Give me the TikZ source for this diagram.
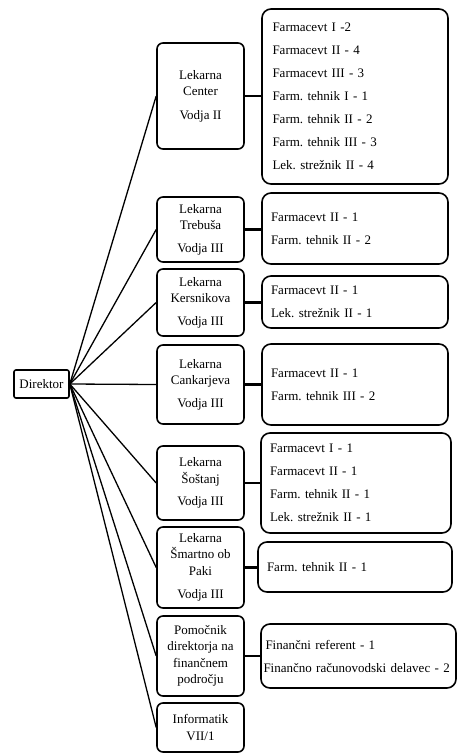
\documentclass[tikz,border=0pt]{standalone}
\usepackage{fontspec}
\setmainfont{Liberation Serif}
\frenchspacing
\tikzset{
  head/.style={draw, line width=1.6pt, rounded corners=2pt, minimum width=55pt, minimum height=28pt, inner sep=2pt, font=\fontsize{13}{16}\selectfont},
  unit/.style={draw, line width=1.6pt, rounded corners=6pt, minimum width=87pt, align=center, inner sep=2pt, font=\fontsize{13}{16.5}\selectfont},
  staff/.style={draw, line width=1.6pt, rounded corners=9pt, align=left, inner xsep=9pt, inner ysep=2pt, font=\fontsize{13}{23}\selectfont},
  link/.style={line width=1.3pt},
  joint/.style={line width=2.6pt}
}
\begin{document}
\begin{tikzpicture}[x=1pt, y=-1pt]
    \useasboundingbox (0,0) rectangle (457,753);
    \node[head] (dir) at (41.5,384) {Direktor}; % vodstvo
    % enote
    \node[unit, minimum height=106pt] (mCenter) at (200.5,96) {Lekarna\\Center\\[7pt]Vodja II};
    \node[unit, minimum height=65pt] (mTrebusa) at (200.5,229.5) {Lekarna\\Trebuša\\[6pt]Vodja III};
    \node[unit, minimum height=67pt] (mKersnikova) at (200.5,302.5) {Lekarna\\Kersnikova\\[6pt]Vodja III};
    \node[unit, minimum height=79pt] (mCankarjeva) at (200.5,384.5) {Lekarna\\Cankarjeva\\[6pt]Vodja III};
    \node[unit, minimum height=74pt] (mSostanj) at (200.5,483) {Lekarna\\Šoštanj\\[6pt]Vodja III};
    \node[unit, minimum height=81pt] (mSmartno) at (200.5,567.5) {Lekarna\\Šmartno ob\\Paki\\[7pt]Vodja III};
    \node[unit, minimum height=80pt] (mPomocnik) at (200.5,656) {Pomočnik\\direktorja na\\finančnem\\področju};
    \node[unit, minimum height=49pt] (mInformatik) at (200.5,727.5) {Informatik\\VII/1};
    % zaposleni
    \node[staff, text width=165pt, inner xsep=10.5pt, minimum height=175pt] (rCenter) at (355,96.5) {Farmacevt I -2\\Farmacevt II - 4\\Farmacevt III - 3\\Farm. tehnik I - 1\\Farm. tehnik II - 2\\Farm. tehnik III - 3\\Lek. strežnik II - 4};
    \node[staff, text width=168pt, minimum height=71pt] (rTrebusa) at (355,228.5) {Farmacevt II - 1\\Farm. tehnik II - 2};
    \node[staff, text width=168pt, minimum height=52pt] (rKersnikova) at (355,302) {Farmacevt II - 1\\Lek. strežnik II - 1};
    \node[staff, text width=168pt, minimum height=81pt] (rCankarjeva) at (355,384.5) {Farmacevt II - 1\\Farm. tehnik III - 2};
    \node[staff, text width=172pt, minimum height=100pt] (rSostanj) at (356,483) {Farmacevt I - 1\\Farmacevt II - 1\\Farm. tehnik II - 1\\Lek. strežnik II - 1};
    \node[staff, text width=176pt, minimum height=50pt] (rSmartno) at (355,567) {Farm. tehnik II - 1};
    \node[staff, text width=190pt, inner xsep=2.5pt, minimum height=64pt] (rPomocnik) at (358.5,656) {\hspace*{2pt}Finančni referent - 1\\Finančno računovodski delavec - 2};
    % povezave
    \foreach \m in {mCenter,mTrebusa,mKersnikova,mCankarjeva,mSostanj,mSmartno,mPomocnik,mInformatik}
        \draw[link] (dir.east) -- (\m.west);
    \foreach \m/\r in {mCenter/rCenter,mTrebusa/rTrebusa,mKersnikova/rKersnikova,mCankarjeva/rCankarjeva,mSostanj/rSostanj,mSmartno/rSmartno,mPomocnik/rPomocnik}
        \draw[joint] (\m.east) -- (\m.east -| \r.west);
\end{tikzpicture}
\end{document}
